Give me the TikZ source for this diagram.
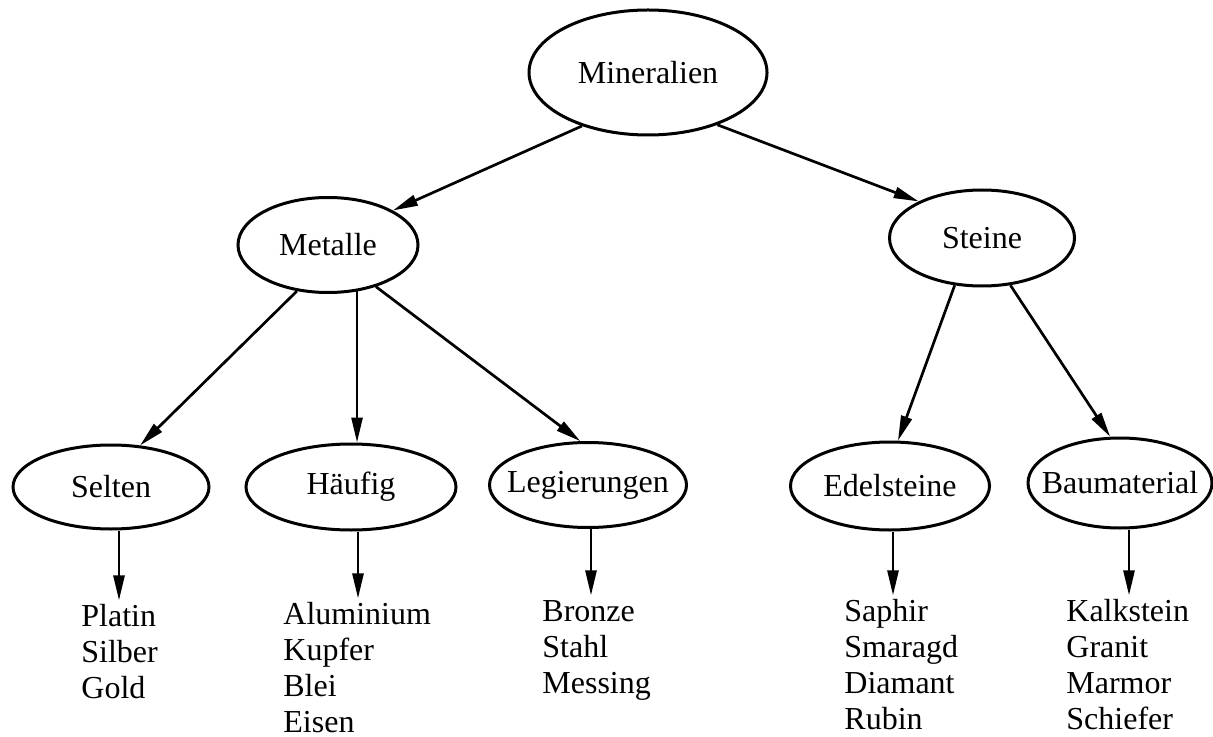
\documentclass[tikz,border=0pt]{standalone}
\usepackage{fontspec}
\setmainfont{Liberation Serif}
\usetikzlibrary{shapes.geometric,arrows.meta}
\tikzset{
  ellbox/.style={ellipse, draw, line width=1.5pt, inner sep=0pt, font=\fontsize{16}{18}\selectfont},
  leaf/.style={anchor=base west, inner sep=0pt, font=\fontsize{16}{18}\selectfont},
  arr/.style={line width=1.35pt, -{Triangle[length=12.5pt,width=5.5pt]}}
}
\newcommand{\zb}[1]{\makebox[0pt]{#1}}
\newcommand{\lst}[1]{\begin{tabular}[t]{@{}l@{}}#1\end{tabular}}
\begin{document}
\begin{tikzpicture}[x=0.5pt,y=-0.5pt]
\useasboundingbox (0,0) rectangle (1213,737);
% ellipses
\node[ellbox, minimum width=119pt, minimum height=62.5pt] (min) at (648,72.5) {\zb{Mineralien}};
\node[ellbox, minimum width=90pt, minimum height=47.5pt] (met) at (328,245) {\zb{Metalle}};
\node[ellbox, minimum width=92.5pt, minimum height=48pt] (ste) at (982,238) {\zb{Steine}};
\node[ellbox, minimum width=98pt, minimum height=42pt] (sel) at (111,487) {\zb{Selten}};
\node[ellbox, minimum width=105pt, minimum height=43pt] (hae) at (351,487) {\zb{Häufig}};
\node[ellbox, minimum width=98.5pt, minimum height=42.5pt] (leg) at (588,485) {\zb{Legierungen}};
\node[ellbox, minimum width=99.5pt, minimum height=44pt] (ede) at (890,486) {\zb{Edelsteine}};
\node[ellbox, minimum width=92pt, minimum height=45pt] (bau) at (1120,483) {\zb{Baumaterial}};
% leaf lists
\node[leaf] (l1) at (81,626) {\lst{Platin\\Silber\\Gold}};
\node[leaf] (l2) at (283,624) {\lst{Aluminium\\Kupfer\\Blei\\Eisen}};
\node[leaf] (l3) at (542,621) {\lst{Bronze\\Stahl\\Messing}};
\node[leaf] (l4) at (844,621) {\lst{Saphir\\Smaragd\\Diamant\\Rubin}};
\node[leaf] (l5) at (1066,621) {\lst{Kalkstein\\Granit\\Marmor\\Schiefer}};
% upper arrows
\draw[arr] (min.-141) -- (met.28);
\draw[arr] (min.-37.6) -- (ste.150.5);
\draw[arr] (met.-124) -- (sel.55);
\draw[arr] (met.-58) -- (met.-58 |- hae.north);
\draw[arr] (met.-41) -- (leg.100);
\draw[arr] (ste.-120) -- (ede.80);
\draw[arr] (ste.-59) -- (bau.102);
% lower arrows
\draw[arr] ([xshift=4pt]sel.south) -- ([xshift=4pt]sel.south |- l1.north);
\draw[arr] ([xshift=3.5pt]hae.south) -- ([xshift=3.5pt]hae.south |- l2.north);
\draw[arr] ([xshift=1.5pt]leg.south) -- ([xshift=1.5pt]leg.south |- l3.north);
\draw[arr] ([xshift=1.5pt]ede.south) -- ([xshift=1.5pt]ede.south |- l4.north);
\draw[arr] ([xshift=4.5pt]bau.south) -- ([xshift=4.5pt]bau.south |- l5.north);
\end{tikzpicture}
\end{document}
